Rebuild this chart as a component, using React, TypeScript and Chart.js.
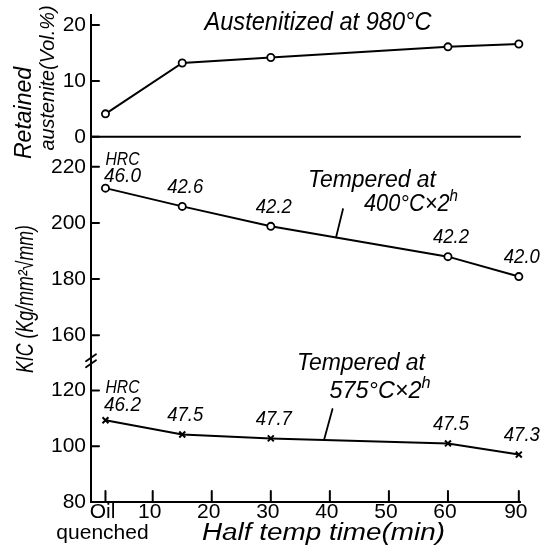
import React, { useEffect, useRef } from 'react';
import { Chart, registerables } from 'chart.js';

Chart.register(...registerables);

// ---------------- data ----------------
const HALF_TEMP_TIME = [0, 15, 30, 60, 90]; // minutes, 0 = oil quenched
const X_TICK_TIMES = [0, 10, 20, 30, 40, 50, 60, 90];
const X_TICK_LABELS: (string | string[])[] = [['Oil', 'quenched'], '10', '20', '30', '40', '50', '60', '90'];

const RETAINED_AUSTENITE = [4.1, 13.2, 14.2, 16.1, 16.6];
const KIC_400C = [212.4, 205.9, 198.8, 188.0, 180.9];
const HRC_400C = ['46.0', '42.6', '42.2', '42.2', '42.0'];
const KIC_575C = [109.3, 104.2, 102.8, 101.0, 97.0];
const HRC_575C = ['46.2', '47.5', '47.7', '47.5', '47.3'];

const RA_TICKS = [0, 10, 20];
const KIC_UPPER_TICKS = [160, 180, 200, 220];
const KIC_LOWER_TICKS = [80, 100, 120];

// ---------------- helpers ----------------
const FONT = '"Liberation Sans", "DejaVu Sans", Arial, sans-serif';

// time axis is broken: "oil quenched" sits just right of the origin, 60→90 min compressed
function axisPos(min: number): number {
  if (min === 0) return 2;
  if (min <= 60) return min;
  return 60 + (min - 60) * 0.4;
}

function drawText(ctx: CanvasRenderingContext2D, str: string, cx: number, cy: number, size: number,
  opts: { italic?: boolean; width?: number; rotate?: boolean; sup?: string } = {}) {
  ctx.save();
  ctx.translate(cx, cy);
  if (opts.rotate) ctx.rotate(-Math.PI / 2);
  const mainFont = `${opts.italic ? 'italic ' : ''}${size}px ${FONT}`;
  const supFont = `${opts.italic ? 'italic ' : ''}${Math.round(size * 0.7)}px ${FONT}`;
  ctx.font = mainFont;
  const w1 = ctx.measureText(str).width;
  let w2 = 0;
  if (opts.sup) {
    ctx.font = supFont;
    w2 = ctx.measureText(opts.sup).width;
  }
  const total = w1 + w2;
  const s = opts.width ? opts.width / total : 1;
  ctx.scale(s, 1);
  ctx.textBaseline = 'middle';
  ctx.textAlign = 'left';
  ctx.font = mainFont;
  ctx.fillText(str, -total / 2, 0);
  if (opts.sup) {
    ctx.font = supFont;
    ctx.fillText(opts.sup, -total / 2 + w1, -size * 0.35);
  }
  ctx.restore();
}

function seg(ctx: CanvasRenderingContext2D, x1: number, y1: number, x2: number, y2: number) {
  ctx.beginPath();
  ctx.moveTo(x1, y1);
  ctx.lineTo(x2, y2);
  ctx.stroke();
}

function yOnLine(chart: any, dsIndex: number, px: number): number {
  const pts = chart.getDatasetMeta(dsIndex).data;
  for (let i = 0; i < pts.length - 1; i++) {
    const a = pts[i], b = pts[i + 1];
    if (px >= a.x && px <= b.x) return a.y + (b.y - a.y) * (px - a.x) / (b.x - a.x);
  }
  return pts[pts.length - 1].y;
}

const annotationPlugin = {
  id: 'handAnnotations',
  afterDraw(chart: any) {
    const ctx: CanvasRenderingContext2D = chart.ctx;
    const { left, right, bottom } = chart.chartArea;
    const sx = chart.scales.x, yTop = chart.scales.yTop, yMid = chart.scales.yMid, yBot = chart.scales.yBot;
    ctx.save();
    ctx.strokeStyle = '#000';
    ctx.fillStyle = '#000';
    ctx.lineCap = 'round';

    // baseline (0 %) of the retained austenite panel
    ctx.lineWidth = 2;
    const y0 = yTop.getPixelForValue(0);
    seg(ctx, left, y0, right, y0);

    // inward tick marks
    for (const t of sx.ticks) {
      const px = sx.getPixelForValue(t.value);
      seg(ctx, px, bottom, px, bottom - 11);
    }
    for (const sc of [yTop, yMid, yBot]) {
      for (const t of sc.ticks) {
        const py = sc.getPixelForValue(t.value);
        seg(ctx, left, py, left + 8, py);
      }
    }

    // axis break mark
    ctx.lineWidth = 1.8;
    const yb = yMid.bottom;
    seg(ctx, left - 5, yb - 1, left + 5, yb - 8);
    seg(ctx, left - 5, yb + 5, left + 5, yb - 2);

    // hardness labels
    const hrcLabels = [
      { ds: 1, labels: HRC_400C, first: { dx: 17, hrcDy: -28, valDy: -12 } },
      { ds: 2, labels: HRC_575C, first: { dx: 17, hrcDy: -33, valDy: -15 } },
    ];
    for (const h of hrcLabels) {
      const pts = chart.getDatasetMeta(h.ds).data;
      pts.forEach((p: any, i: number) => {
        if (i === 0) {
          drawText(ctx, 'HRC', p.x + h.first.dx, p.y + h.first.hrcDy, 19, { italic: true, width: 34 });
          drawText(ctx, h.labels[i], p.x + h.first.dx, p.y + h.first.valDy, 20, { italic: true, width: 37 });
        } else {
          drawText(ctx, h.labels[i], p.x + 3, p.y - 19, 20, { italic: true, width: 36 });
        }
      });
    }

    // titles & notes
    drawText(ctx, 'Austenitized at 980°C', 318, 23.5, 25, { italic: true, width: 227 });
    drawText(ctx, 'Tempered at', 372, 181, 23, { italic: true, width: 128 });
    drawText(ctx, '400°C×2', 411, 205, 23, { italic: true, width: 94, sup: 'h' });
    drawText(ctx, 'Tempered at', 361, 364, 23, { italic: true, width: 128 });
    drawText(ctx, '575°C×2', 380, 392, 23, { italic: true, width: 101, sup: 'h' });

    // leader lines
    ctx.lineWidth = 1.8;
    seg(ctx, 343, 209, 336, yOnLine(chart, 1, 336));
    seg(ctx, 332.5, 409, 324, yOnLine(chart, 2, 324));

    // axis titles
    drawText(ctx, 'Retained', 25, 113, 23, { italic: true, width: 92, rotate: true });
    drawText(ctx, 'austenite(Vol.%)', 48, 78, 21, { italic: true, width: 145, rotate: true });
    drawText(ctx, 'KIC (Kg/mm²√mm)', 27, 299, 23, { italic: true, width: 148, rotate: true });
    drawText(ctx, 'Half temp time(min)', 323.5, 534, 23, { italic: true, width: 243 });

    ctx.restore();
  },
};

function yAxis(stackWeight: number, weight: number, min: number, max: number, ticks: number[]) {
  return {
    type: 'linear',
    position: 'left',
    stack: 'kic',
    stackWeight,
    weight,
    min,
    max,
    grid: { display: false, drawTicks: false },
    border: { display: true, color: '#000', width: 2 },
    ticks: { color: '#000', font: { family: FONT, size: 21 }, padding: 5 },
    afterBuildTicks: (s: any) => { s.ticks = ticks.map((v) => ({ value: v })); },
    afterFit: (s: any) => { s.width = 91; s.paddingTop = 0; s.paddingBottom = 0; },
  };
}

export default function App() {
  const ref = useRef<HTMLCanvasElement>(null);

  useEffect(() => {
    const xs = HALF_TEMP_TIME.map(axisPos);
    const lineStyle = {
      borderColor: '#000',
      borderWidth: 2,
      tension: 0,
      clip: false as const,
      pointBorderColor: '#000',
      pointBackgroundColor: '#fff',
      pointBorderWidth: 1.8,
    };
    const chart = new Chart(ref.current as HTMLCanvasElement, {
      type: 'line',
      data: {
        datasets: [
          {
            ...lineStyle,
            label: 'Retained austenite (Vol.%)',
            data: xs.map((x, i) => ({ x, y: RETAINED_AUSTENITE[i] })),
            yAxisID: 'yTop',
            pointStyle: 'circle',
            pointRadius: 3.6,
          },
          {
            ...lineStyle,
            label: 'KIC, tempered at 400°C×2h',
            data: xs.map((x, i) => ({ x, y: KIC_400C[i] })),
            yAxisID: 'yMid',
            pointStyle: 'circle',
            pointRadius: 3.6,
          },
          {
            ...lineStyle,
            label: 'KIC, tempered at 575°C×2h',
            data: xs.map((x, i) => ({ x, y: KIC_575C[i] })),
            yAxisID: 'yBot',
            pointStyle: 'crossRot',
            pointRadius: 4.2,
            pointBorderWidth: 2,
          },
        ],
      },
      options: {
        animation: false,
        responsive: true,
        maintainAspectRatio: false,
        events: [],
        layout: { padding: { top: 15, right: 29, left: 0, bottom: 0 } },
        plugins: { legend: { display: false }, tooltip: { enabled: false }, title: { display: false } },
        scales: {
          x: {
            type: 'linear',
            position: 'bottom',
            min: -0.45,
            max: 72.2,
            grid: { display: false, drawTicks: false },
            border: { display: true, color: '#000', width: 2 },
            ticks: {
              color: '#000',
              font: { family: FONT, size: 21, lineHeight: 1.0 },
              padding: 0,
              labelOffset: -3,
              autoSkip: false,
              maxRotation: 0,
              minRotation: 0,
              callback: (_v: any, i: number) => X_TICK_LABELS[i],
            },
            afterBuildTicks: (s: any) => { s.ticks = X_TICK_TIMES.map((m) => ({ value: axisPos(m) })); },
            afterFit: (s: any) => { s.height = 49; s.paddingLeft = 0; s.paddingRight = 0; },
          },
          yTop: yAxis(121.7, 3, 0, 21.8, RA_TICKS),
          yMid: yAxis(225.3, 2, 150.4, 230.7, KIC_UPPER_TICKS),
          yBot: yAxis(139.7, 1, 80, 130.1, KIC_LOWER_TICKS),
        } as any,
      },
      plugins: [annotationPlugin],
    });
    return () => chart.destroy();
  }, []);

  return (
    <div style={{ position: 'absolute', left: 0, top: 0, width: 549, height: 551, background: '#fff' }}>
      <canvas ref={ref} />
    </div>
  );
}
